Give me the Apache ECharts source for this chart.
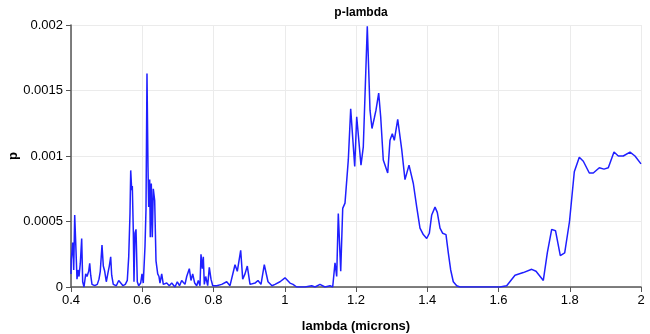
<!DOCTYPE html>
<html>
<head>
<meta charset="utf-8">
<script src="https://cdn.jsdelivr.net/npm/echarts@6/dist/echarts.min.js"></script>
<style>html,body{margin:0;padding:0;background:#fff}#c{width:650px;height:334px}</style>
</head>
<body>
<div id="c"></div>
<script>
var titleText = 'p-lambda';
var xName = 'lambda (microns)';
var yName = 'p';
var xTicks = [0.4, 0.6, 0.8, 1, 1.2, 1.4, 1.6, 1.8, 2];
var yTicks = [0, 0.0005, 0.001, 0.0015, 0.002];

var lambda = [
0.4000,0.4008,0.4048,0.4076,0.4104,0.4140,0.4168,0.4196,0.4225,0.4261,0.4300,0.4328,0.4365,0.4413,0.4449,0.4497,0.4525,0.4553,0.4589,0.4665,
0.4738,0.4786,0.4822,0.4870,0.4907,0.4946,0.4991,0.5039,0.5075,0.5114,0.5142,0.5187,0.5272,0.5339,0.5395,0.5460,0.5524,0.5580,0.5620,0.5656,
0.5676,0.5704,0.5721,0.5749,0.5768,0.5796,0.5825,0.5861,0.5900,0.5956,0.5993,0.6029,0.6077,0.6105,0.6133,0.6161,0.6181,0.6209,0.6226,0.6254,
0.6282,0.6310,0.6349,0.6386,0.6434,0.6470,0.6498,0.6546,0.6591,0.6639,0.6687,0.6759,0.6827,0.6919,0.6984,0.7046,0.7107,0.7200,0.7248,0.7321,
0.7368,0.7416,0.7472,0.7528,0.7573,0.7621,0.7649,0.7686,0.7714,0.7742,0.7781,0.7837,0.7882,0.7930,0.7978,0.8090,0.8230,0.8371,0.8463,0.8511,
0.8604,0.8668,0.8763,0.8820,0.8884,0.8949,0.9025,0.9165,0.9249,0.9333,0.9426,0.9530,0.9642,0.9726,0.9867,1.0007,1.0147,1.0232,1.0335,1.0568,
1.0756,1.0849,1.0989,1.1130,1.1270,1.1346,1.1411,1.1458,1.1503,1.1571,1.1627,1.1691,1.1784,1.1851,1.1964,1.2020,1.2076,1.2140,1.2205,1.2317,
1.2393,1.2449,1.2514,1.2561,1.2637,1.2693,1.2766,1.2814,1.2890,1.2954,1.3019,1.3075,1.3171,1.3283,1.3375,1.3488,1.3609,1.3705,1.3796,1.3889,
1.3985,1.4058,1.4125,1.4218,1.4282,1.4358,1.4434,1.4526,1.4591,1.4658,1.4731,1.4827,1.4919,1.5481,1.6042,1.6230,1.6463,1.6696,1.6932,1.7053,
1.7258,1.7370,1.7493,1.7600,1.7735,1.7858,1.7993,1.8128,1.8268,1.8381,1.8549,1.8661,1.8830,1.8961,1.9082,1.9242,1.9363,1.9503,1.9691,1.9831,
2.0000
];

var p = [
0.00010,0.00021,0.00034,0.00013,0.00055,0.00028,0.00006,0.00013,0.00008,0.00018,0.00037,0.00004,0.00000,0.00010,0.00008,0.00012,0.00018,0.00009,0.00002,0.00001,
0.00002,0.00006,0.00012,0.00032,0.00016,0.00012,0.00004,0.00011,0.00016,0.00023,0.00009,0.00002,0.00001,0.00005,0.00006,0.00001,0.00002,0.00005,0.00023,0.00056,
0.00089,0.00074,0.00077,0.00043,0.00004,0.00041,0.00044,0.00004,0.00001,0.00003,0.00010,0.00003,0.00031,0.00059,0.00163,0.00092,0.00061,0.00082,0.00038,0.00079,
0.00038,0.00075,0.00066,0.00020,0.00010,0.00008,0.00003,0.00010,0.00002,0.00003,0.00003,0.00001,0.00003,0.00000,0.00004,0.00001,0.00005,0.00002,0.00008,0.00014,
0.00005,0.00010,0.00003,0.00001,0.00005,0.00001,0.00025,0.00014,0.00023,0.00002,0.00008,0.00001,0.00015,0.00006,0.00001,0.00001,0.00002,0.00004,0.00001,0.00000,
0.00017,0.00012,0.00028,0.00006,0.00010,0.00016,0.00002,0.00003,0.00005,0.00002,0.00017,0.00004,0.00001,0.00002,0.00004,0.00007,0.00003,0.00002,0.00000,0.00000,
0.00001,0.00000,0.00002,0.00000,0.00001,0.00000,0.000185,0.00008,0.00056,0.00012,0.00060,0.00064,0.00097,0.00136,0.00092,0.00130,0.00131,0.00093,0.00107,0.00199,
0.00135,0.00121,0.00129,0.00135,0.00148,0.00130,0.00097,0.00098,0.00087,0.00112,0.00117,0.00112,0.00128,0.00105,0.00082,0.00093,0.00079,0.00061,0.00045,0.00040,
0.00037,0.00041,0.00055,0.00061,0.00057,0.00045,0.00041,0.00040,0.00026,0.00013,0.00004,0.00001,0.00000,0.00000,0.00000,0.00001,0.00009,0.00011,0.000135,0.00012,
0.00005,0.00026,0.00044,0.00043,0.00024,0.00026,0.00050,0.00088,0.00099,0.00096,0.00087,0.00087,0.00091,0.00090,0.00091,0.00103,0.00100,0.00100,0.00103,0.00100,
0.00094
];

var seriesData = lambda.map(function (x, i) { return [x, p[i]]; });

var chart = echarts.init(document.getElementById('c'), null, {renderer: 'canvas'});
var font = 'Liberation Sans, Arial, sans-serif';
chart.setOption({
  animation: false,
  backgroundColor: '#ffffff',
  title: {
    text: titleText,
    left: 356, top: 2, textAlign: 'center',
    textStyle: {fontFamily: font, fontSize: 12, fontWeight: 'bold', color: '#000'}
  },
  grid: {left: 71, right: 9, top: 25, bottom: 47, containLabel: false, outerBoundsMode: 'none'},
  xAxis: {
    type: 'value', min: xTicks[0], max: xTicks[xTicks.length - 1], interval: 0.2,
    name: xName, nameLocation: 'middle', nameGap: 33, nameMoveOverlap: false,
    nameTextStyle: {fontFamily: font, fontSize: 13, fontWeight: 'bold', color: '#000'},
    axisLine: {show: true, onZero: false, lineStyle: {color: '#555', width: 1.5}},
    axisTick: {show: true, length: 5, lineStyle: {color: '#555'}},
    axisLabel: {fontFamily: font, fontSize: 13, color: '#000', margin: 7,
      formatter: function (v) { return String(parseFloat(v.toFixed(4))); }},
    splitLine: {show: true, lineStyle: {color: '#ebebeb', width: 1}}
  },
  yAxis: {
    type: 'value', min: yTicks[0], max: yTicks[yTicks.length - 1], interval: 0.0005,
    name: yName, nameLocation: 'middle', nameGap: 51, nameMoveOverlap: false,
    nameTextStyle: {fontFamily: font, fontSize: 13, fontWeight: 'bold', color: '#000'},
    axisLine: {show: true, lineStyle: {color: '#555', width: 1.5}},
    axisTick: {show: true, length: 5, lineStyle: {color: '#555'}},
    axisLabel: {fontFamily: font, fontSize: 13, color: '#000', margin: 8,
      formatter: function (v) { return String(parseFloat(v.toFixed(6))); }},
    splitLine: {show: true, lineStyle: {color: '#ebebeb', width: 1}}
  },
  series: [{
    type: 'line', data: seriesData, showSymbol: false, smooth: false,
    lineStyle: {color: '#1f1fff', width: 1.5},
    itemStyle: {color: '#1f1fff'}
  }]
});
</script>
</body>
</html>
